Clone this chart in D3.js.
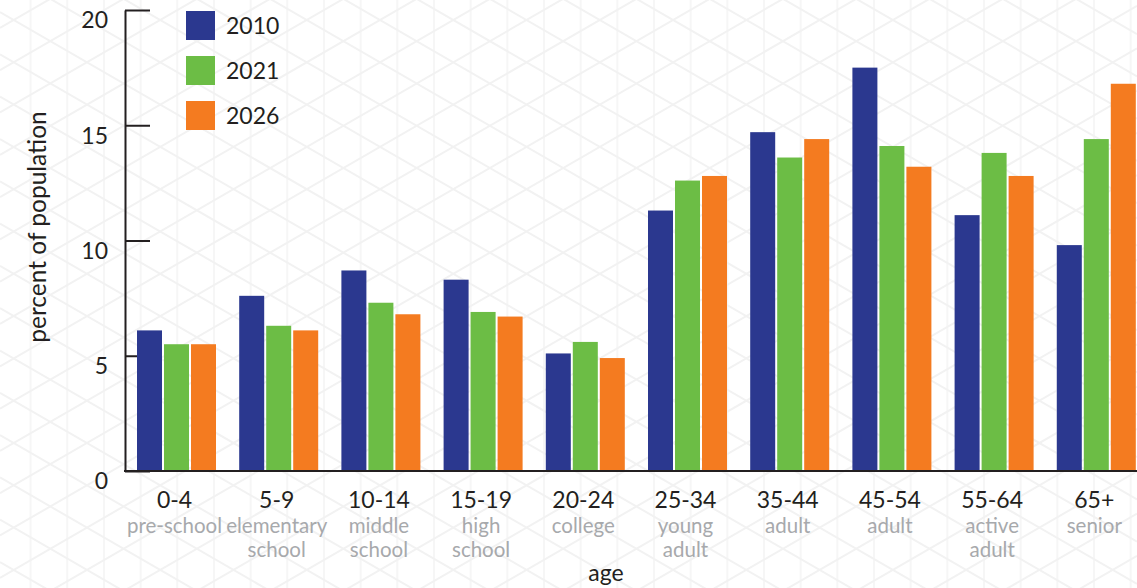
<!DOCTYPE html>
<html>
<head>
<meta charset="utf-8">
<script src="https://cdn.jsdelivr.net/npm/d3@7"></script>
<style>
  html, body { margin: 0; padding: 0; background: #ffffff; overflow: hidden; }
  svg { display: block; }
  text { font-family: Lato, "Open Sans", sans-serif; }
</style>
</head>
<body>
<svg id="chart" width="1137" height="588"></svg>
<script>
// Age groups and their descriptive sub-labels
const ageGroups = ["0-4", "5-9", "10-14", "15-19", "20-24", "25-34", "35-44", "45-54", "55-64", "65+"];
const ageNames = [
  ["pre-school"], ["elementary", "school"], ["middle", "school"], ["high", "school"],
  ["college"], ["young", "adult"], ["adult"], ["adult"], ["active", "adult"], ["senior"]
];

// Series: share of population per age group (%)
const years = ["2010", "2021", "2026"];
const values2010 = [6.1, 7.6, 8.7, 8.3, 5.1, 11.3, 14.7, 17.5, 11.1, 9.8];
const values2021 = [5.5, 6.3, 7.3, 6.9, 5.6, 12.6, 13.6, 14.1, 13.8, 14.4];
const values2026 = [5.5, 6.1, 6.8, 6.7, 4.9, 12.8, 14.4, 13.2, 12.8, 16.8];
const yTicks = [0, 5, 10, 15, 20];

const colors = ["#2b388f", "#6cbd45", "#f47b20"];
const ink = "#231f20";
const subInk = "#a7a9ac";

const svg = d3.select("#chart");
const W = 1137, H = 588;

// Faint triangular lattice in the background
const bg = svg.append("g").attr("class", "lattice");
const t = Math.tan(Math.PI / 6);
const vStep = 36.67, dStep = 42.3;
for (let x = 30.6 - vStep; x < W + vStep; x += vStep) {
  bg.append("line").attr("x1", x).attr("x2", x).attr("y1", 0).attr("y2", H)
    .attr("stroke", "#f6f6f6").attr("stroke-width", 2);
}
for (let c = 27.9 - 30 * dStep; c < H + W * t + dStep; c += dStep) {
  bg.append("line").attr("x1", 0).attr("y1", c).attr("x2", W).attr("y2", c - W * t)
    .attr("stroke", "#f2f2f2").attr("stroke-width", 2);
}
for (let c = 12.1 - 30 * dStep; c < H + dStep; c += dStep) {
  bg.append("line").attr("x1", 0).attr("y1", c).attr("x2", W).attr("y2", c + W * t)
    .attr("stroke", "#f2f2f2").attr("stroke-width", 2);
}

// Scales
const axisX = 125, baseY = 471, topY = 10;
const x0 = d3.scaleBand().domain(ageGroups).range([137, 1135.8]).paddingInner(0.227).paddingOuter(0);
const x1 = d3.scaleBand().domain(years).range([0, x0.bandwidth()]).paddingInner(2 / 27);
const y = d3.scaleLinear().domain([0, 20]).range([baseY, topY]);

const series = [values2010, values2021, values2026];
const rows = ageGroups.map((g, i) => ({ group: g, vals: years.map((yr, j) => ({ year: yr, v: series[j][i], c: colors[j] })) }));

// Y axis (ticks point inward, labels sit just under each tick)
const yAxis = d3.axisLeft(y).tickValues(yTicks).tickSize(-25).tickSizeOuter(0).tickPadding(17);
const gy = svg.append("g").attr("transform", `translate(${axisX},0)`).call(yAxis);
gy.select(".domain").attr("stroke", ink).attr("stroke-width", 2);
gy.selectAll(".tick line").attr("stroke", ink).attr("stroke-width", 2);
gy.selectAll(".tick text").attr("fill", ink).attr("font-size", 23).attr("font-family", "Lato, sans-serif").attr("dy", "0.78em");

// Bars
const groups = svg.append("g").selectAll("g").data(rows).join("g")
  .attr("transform", d => `translate(${x0(d.group)},0)`);
groups.selectAll("rect").data(d => d.vals).join("rect")
  .attr("x", d => x1(d.year))
  .attr("width", x1.bandwidth())
  .attr("y", d => y(d.v))
  .attr("height", d => baseY - y(d.v))
  .attr("fill", d => d.c);

// Baseline
svg.append("line").attr("x1", axisX - 1).attr("x2", W).attr("y1", baseY).attr("y2", baseY)
  .attr("stroke", ink).attr("stroke-width", 2);

// Category labels
const labels = svg.append("g").selectAll("g").data(ageGroups).join("g")
  .attr("transform", d => `translate(${x0(d) + x0.bandwidth() / 2 - 2},0)`);
labels.append("text").attr("y", 508).attr("text-anchor", "middle")
  .attr("font-size", 23).attr("fill", ink).text(d => d);
labels.each(function (d, i) {
  const g = d3.select(this);
  ageNames[i].forEach((line, k) => {
    g.append("text").attr("y", 533 + k * 24).attr("text-anchor", "middle")
      .attr("font-size", 20.5).attr("fill", subInk).text(line);
  });
});

// Axis titles
svg.append("text").attr("transform", "translate(46,227) rotate(-90)")
  .attr("text-anchor", "middle").attr("font-size", 24.5).attr("fill", ink).text("percent of population");
svg.append("text").attr("x", 606).attr("y", 581).attr("text-anchor", "middle")
  .attr("font-size", 23).attr("fill", ink).text("age");

// Legend
const legend = svg.append("g").selectAll("g").data(years).join("g")
  .attr("transform", (d, i) => `translate(186,${11 + i * 45})`);
legend.append("rect").attr("width", 29).attr("height", 29).attr("fill", (d, i) => colors[i]);
legend.append("text").attr("x", 40).attr("y", 22.5).attr("font-size", 23).attr("fill", ink).text(d => d);
</script>
</body>
</html>
